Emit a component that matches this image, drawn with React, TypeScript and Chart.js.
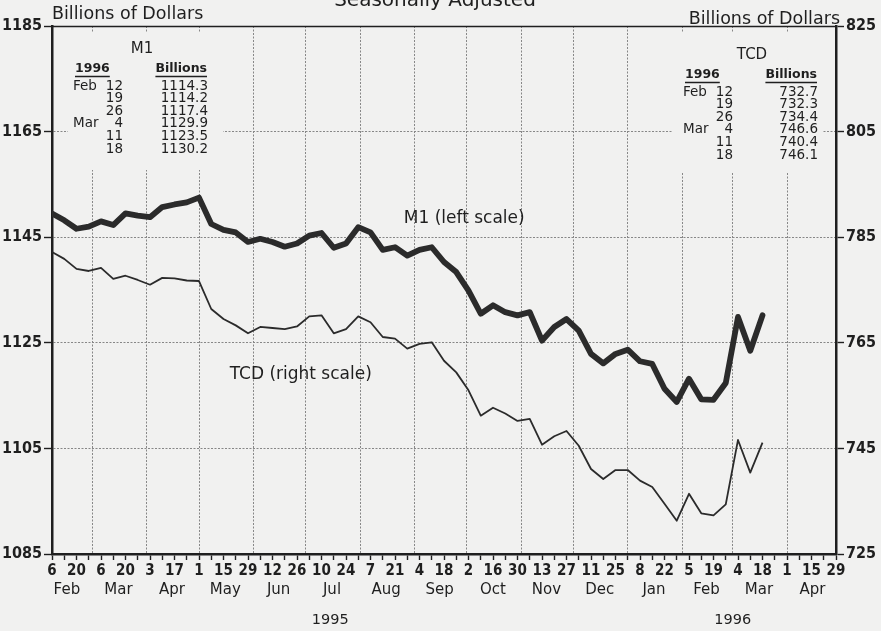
import React, { useEffect, useRef } from "react";
import { Chart, registerables } from "chart.js";

Chart.register(...registerables);

// ---------- data ----------
const START_UTC = Date.UTC(1995, 1, 6); // Monday, Feb 6 1995
const TOTAL_WEEKS = 64; // through Apr 29 1996

const m1Values = [
  1149.5, 1148.2, 1146.6, 1147.0, 1148.0, 1147.3, 1149.5, 1149.1, 1148.8, 1150.7,
  1151.2, 1151.6, 1152.5, 1147.5, 1146.4, 1145.9, 1144.1, 1144.7, 1144.1, 1143.2,
  1143.8, 1145.3, 1145.8, 1143.0, 1143.8, 1146.9, 1145.9, 1142.6, 1143.1, 1141.5,
  1142.6, 1143.1, 1140.3, 1138.4, 1134.9, 1130.5, 1132.1, 1130.8, 1130.2, 1130.8,
  1125.4, 1128.0, 1129.5, 1127.3, 1122.9, 1121.1, 1122.9, 1123.7, 1121.5, 1121.0,
  1116.3, 1113.8, 1118.2, 1114.3, 1114.2, 1117.4, 1129.9, 1123.5, 1130.2,
];

const tcdValues = [
  782.2, 780.9, 779.0, 778.6, 779.2, 777.1, 777.7, 776.9, 776.0, 777.3,
  777.2, 776.8, 776.7, 771.4, 769.5, 768.3, 766.8, 768.0, 767.8, 767.6,
  768.1, 770.0, 770.2, 766.8, 767.6, 770.0, 768.9, 766.1, 765.8, 763.9,
  764.8, 765.1, 761.6, 759.4, 756.0, 751.2, 752.7, 751.6, 750.2, 750.6,
  745.7, 747.3, 748.3, 745.5, 741.1, 739.2, 740.9, 740.9, 738.9, 737.7,
  734.5, 731.3, 736.4, 732.7, 732.3, 734.4, 746.6, 740.4, 746.1,
];

const dayTickLabels = [
  "6", "20", "6", "20", "3", "17", "1", "15", "29", "12", "26", "10", "24", "7", "21",
  "4", "18", "2", "16", "30", "13", "27", "11", "25", "8", "22", "5", "19", "4", "18",
  "1", "15", "29",
];

const monthNames = ["Feb", "Mar", "Apr", "May", "Jun", "Jul", "Aug", "Sep", "Oct", "Nov", "Dec", "Jan", "Feb", "Mar", "Apr"];
const monthYears = [1995, 1995, 1995, 1995, 1995, 1995, 1995, 1995, 1995, 1995, 1995, 1996, 1996, 1996, 1996];
const monthIndex = [1, 2, 3, 4, 5, 6, 7, 8, 9, 10, 11, 0, 1, 2, 3];

const yearLabels = ["1995", "1996"];
const yearAnchors = [
  [1995, 6, 15],
  [1996, 2, 1],
];

const leftTicks = [1085, 1105, 1125, 1145, 1165, 1185];
const rightTicks = [725, 745, 765, 785, 805, 825];

const tableMonths = ["Feb", "", "", "Mar", "", ""];
const tableDays = ["12", "19", "26", "4", "11", "18"];
const m1Table = ["1114.3", "1114.2", "1117.4", "1129.9", "1123.5", "1130.2"];
const tcdTable = ["732.7", "732.3", "734.4", "746.6", "740.4", "746.1"];

// ---------- helpers / style ----------
const BG = "#f1f1f0";
const INK = "#1f1f1f";
const GRID = "#878787";
const NARROW = "'Liberation Sans Narrow', 'DejaVu Sans Condensed', 'Arial Narrow', sans-serif";
const SANS = "'DejaVu Sans', sans-serif";

const dayOf = (y: number, m: number, d: number) => Math.round((Date.UTC(y, m, d) - START_UTC) / 86400000);
const daysInMonth = (y: number, m: number) => new Date(Date.UTC(y, m + 1, 0)).getUTCDate();

const weekTickValues: number[] = [];
for (let i = 0; i <= TOTAL_WEEKS; i++) weekTickValues.push(i * 7);

const monthStartValues: number[] = [];
for (let k = 1; k < monthNames.length; k++) monthStartValues.push(dayOf(monthYears[k], monthIndex[k], 1));

const decorPlugin = {
  id: "decor",
  beforeDraw(chart: any) {
    const { ctx, width, height } = chart;
    ctx.save();
    ctx.fillStyle = BG;
    ctx.fillRect(0, 0, width, height);
    ctx.restore();
  },
  beforeDatasetsDraw(chart: any) {
    const { ctx, chartArea: ca } = chart;
    ctx.save();
    ctx.fillStyle = BG;
    ctx.fillRect(ca.left + 16, ca.top + 7, 155, 137);
    ctx.fillRect(ca.right - 164, ca.top + 7, 151, 139);
    ctx.restore();
  },
  afterDraw(chart: any) {
    const { ctx, chartArea: ca, scales } = chart;
    const xs = scales.x;
    ctx.save();
    ctx.fillStyle = INK;
    ctx.strokeStyle = INK;

    // top frame
    ctx.lineWidth = 1.5;
    ctx.beginPath();
    ctx.moveTo(ca.left, ca.top + 0.5);
    ctx.lineTo(ca.right, ca.top + 0.5);
    ctx.stroke();

    // title (cut at top)
    ctx.font = `20px ${SANS}`;
    ctx.textAlign = "center";
    ctx.textBaseline = "alphabetic";
    ctx.fillText("Seasonally Adjusted", (ca.left + ca.right) / 2 - 9, 6);

    // axis titles
    ctx.font = `17.5px ${SANS}`;
    ctx.textBaseline = "middle";
    ctx.textAlign = "left";
    ctx.fillText("Billions of Dollars", ca.left, ca.top - 12);
    ctx.textAlign = "right";
    ctx.fillText("Billions of Dollars", ca.right + 4, ca.top - 7);

    // month labels
    ctx.font = `15px ${SANS}`;
    ctx.textAlign = "center";
    for (let k = 0; k < monthNames.length; k++) {
      const y = monthYears[k];
      const m = monthIndex[k];
      const mid = dayOf(y, m, 1) + daysInMonth(y, m) / 2 - 0.5;
      ctx.fillText(monthNames[k], xs.getPixelForValue(mid), ca.bottom + 36);
    }
    // year labels
    ctx.font = `14.5px ${SANS}`;
    for (let k = 0; k < yearLabels.length; k++) {
      const [y, m, d] = yearAnchors[k];
      ctx.fillText(yearLabels[k], xs.getPixelForValue(dayOf(y, m, d)), ca.bottom + 66);
    }

    // series labels
    ctx.font = `17px ${SANS}`;
    ctx.textAlign = "left";
    ctx.fillText("M1 (left scale)", xs.getPixelForValue(201), scales.y.getPixelForValue(1148.5));
    ctx.fillText("TCD (right scale)", xs.getPixelForValue(101.5), scales.y2.getPixelForValue(759.0));

    // inset tables
    const drawTable = (title: string, vals: string[], left: number, top: number) => {
      ctx.textBaseline = "middle";
      ctx.font = `15px ${SANS}`;
      ctx.textAlign = "center";
      ctx.fillText(title, left + 69, top);
      ctx.font = `bold 12.5px ${SANS}`;
      ctx.textAlign = "left";
      const hy = top + 20;
      ctx.fillText("1996", left + 2, hy);
      const w1 = ctx.measureText("1996").width;
      ctx.textAlign = "right";
      ctx.fillText("Billions", left + 134, hy);
      const w2 = ctx.measureText("Billions").width;
      ctx.lineWidth = 1.4;
      ctx.beginPath();
      ctx.moveTo(left + 2, hy + 7.5);
      ctx.lineTo(left + 2 + w1, hy + 7.5);
      ctx.moveTo(left + 134 - w2, hy + 7.5);
      ctx.lineTo(left + 134, hy + 7.5);
      ctx.stroke();
      ctx.font = `13.5px ${SANS}`;
      for (let r = 0; r < vals.length; r++) {
        const ry = top + 37 + r * 12.6;
        ctx.textAlign = "left";
        if (tableMonths[r]) ctx.fillText(tableMonths[r], left, ry);
        ctx.textAlign = "right";
        ctx.fillText(tableDays[r], left + 50, ry);
        ctx.fillText(vals[r], left + 135, ry);
      }
    };
    drawTable("M1", m1Table, ca.left + 21, ca.top + 23);
    drawTable("TCD", tcdTable, ca.right - 153, ca.top + 29);

    ctx.restore();
  },
};

export default function App() {
  const canvasRef = useRef<HTMLCanvasElement | null>(null);

  useEffect(() => {
    const canvas = canvasRef.current;
    if (!canvas) return;
    const chart = new Chart(canvas, {
      type: "line",
      data: {
        datasets: [
          {
            label: "M1",
            data: m1Values.map((v, i) => ({ x: i * 7, y: v })),
            xAxisID: "x",
            yAxisID: "y",
            borderColor: "#2b2b2b",
            borderWidth: 5.8,
            pointRadius: 0,
            borderJoinStyle: "round",
            borderCapStyle: "round",
            tension: 0,
          },
          {
            label: "TCD",
            data: tcdValues.map((v, i) => ({ x: i * 7, y: v })),
            xAxisID: "x",
            yAxisID: "y2",
            borderColor: "#2b2b2b",
            borderWidth: 1.8,
            pointRadius: 0,
            borderJoinStyle: "round",
            tension: 0,
          },
        ],
      },
      options: {
        animation: false,
        responsive: false,
        maintainAspectRatio: false,
        layout: { padding: { top: 26, left: 0, right: 0, bottom: 0 } },
        plugins: { legend: { display: false }, tooltip: { enabled: false }, title: { display: false } },
        scales: {
          xm: {
            type: "linear",
            position: "bottom",
            min: 0,
            max: TOTAL_WEEKS * 7,
            afterBuildTicks: (s: any) => {
              s.ticks = monthStartValues.map((v) => ({ value: v }));
            },
            afterFit: (s: any) => {
              s.height = 0;
            },
            ticks: { display: false },
            grid: { drawOnChartArea: true, drawTicks: false, color: GRID, lineWidth: 1 },
            border: { display: false, dash: [2, 1.5] },
          },
          x: {
            type: "linear",
            position: "bottom",
            min: 0,
            max: TOTAL_WEEKS * 7,
            afterBuildTicks: (s: any) => {
              s.ticks = weekTickValues.map((v) => ({ value: v }));
            },
            afterFit: (s: any) => {
              s.height = 77;
            },
            ticks: {
              autoSkip: false,
              maxRotation: 0,
              minRotation: 0,
              padding: 2,
              color: INK,
              font: { family: NARROW, size: 15, weight: "bold" },
              callback: (_v: any, index: number) => (index % 2 === 0 ? dayTickLabels[index / 2] : ""),
            },
            grid: { drawOnChartArea: false, drawTicks: true, tickLength: 6, tickColor: INK, tickWidth: 1.4 },
            border: { display: true, color: INK, width: 2.5 },
          },
          y: {
            type: "linear",
            position: "left",
            min: 1085,
            max: 1185,
            afterBuildTicks: (s: any) => {
              s.ticks = leftTicks.map((v) => ({ value: v }));
            },
            afterFit: (s: any) => {
              s.width = 52;
            },
            ticks: {
              color: INK,
              padding: 2,
              font: { family: NARROW, size: 16, weight: "bold" },
              callback: (v: any) => String(v),
            },
            grid: {
              drawOnChartArea: true,
              drawTicks: true,
              tickLength: 8,
              tickColor: INK,
              tickWidth: 1.4,
              lineWidth: 1,
              color: (c: any) => (c.tick && (c.tick.value === 1085 || c.tick.value === 1185) ? "rgba(0,0,0,0)" : GRID),
            },
            border: { display: true, color: INK, width: 2.5, dash: [2, 1.5] },
          },
          y2: {
            type: "linear",
            position: "right",
            min: 725,
            max: 825,
            afterBuildTicks: (s: any) => {
              s.ticks = rightTicks.map((v) => ({ value: v }));
            },
            afterFit: (s: any) => {
              s.width = 45;
            },
            ticks: {
              color: INK,
              padding: 2,
              font: { family: NARROW, size: 16, weight: "bold" },
              callback: (v: any) => String(v),
            },
            grid: { drawOnChartArea: false, drawTicks: true, tickLength: 8, tickColor: INK, tickWidth: 1.4 },
            border: { display: true, color: INK, width: 2.5 },
          },
        },
      },
      plugins: [decorPlugin],
    } as any);
    return () => chart.destroy();
  }, []);

  return (
    <div style={{ position: "fixed", left: 0, top: 0, width: 881, height: 631, background: BG }}>
      <canvas ref={canvasRef} width={881} height={631} style={{ display: "block", width: 881, height: 631 }} />
    </div>
  );
}
